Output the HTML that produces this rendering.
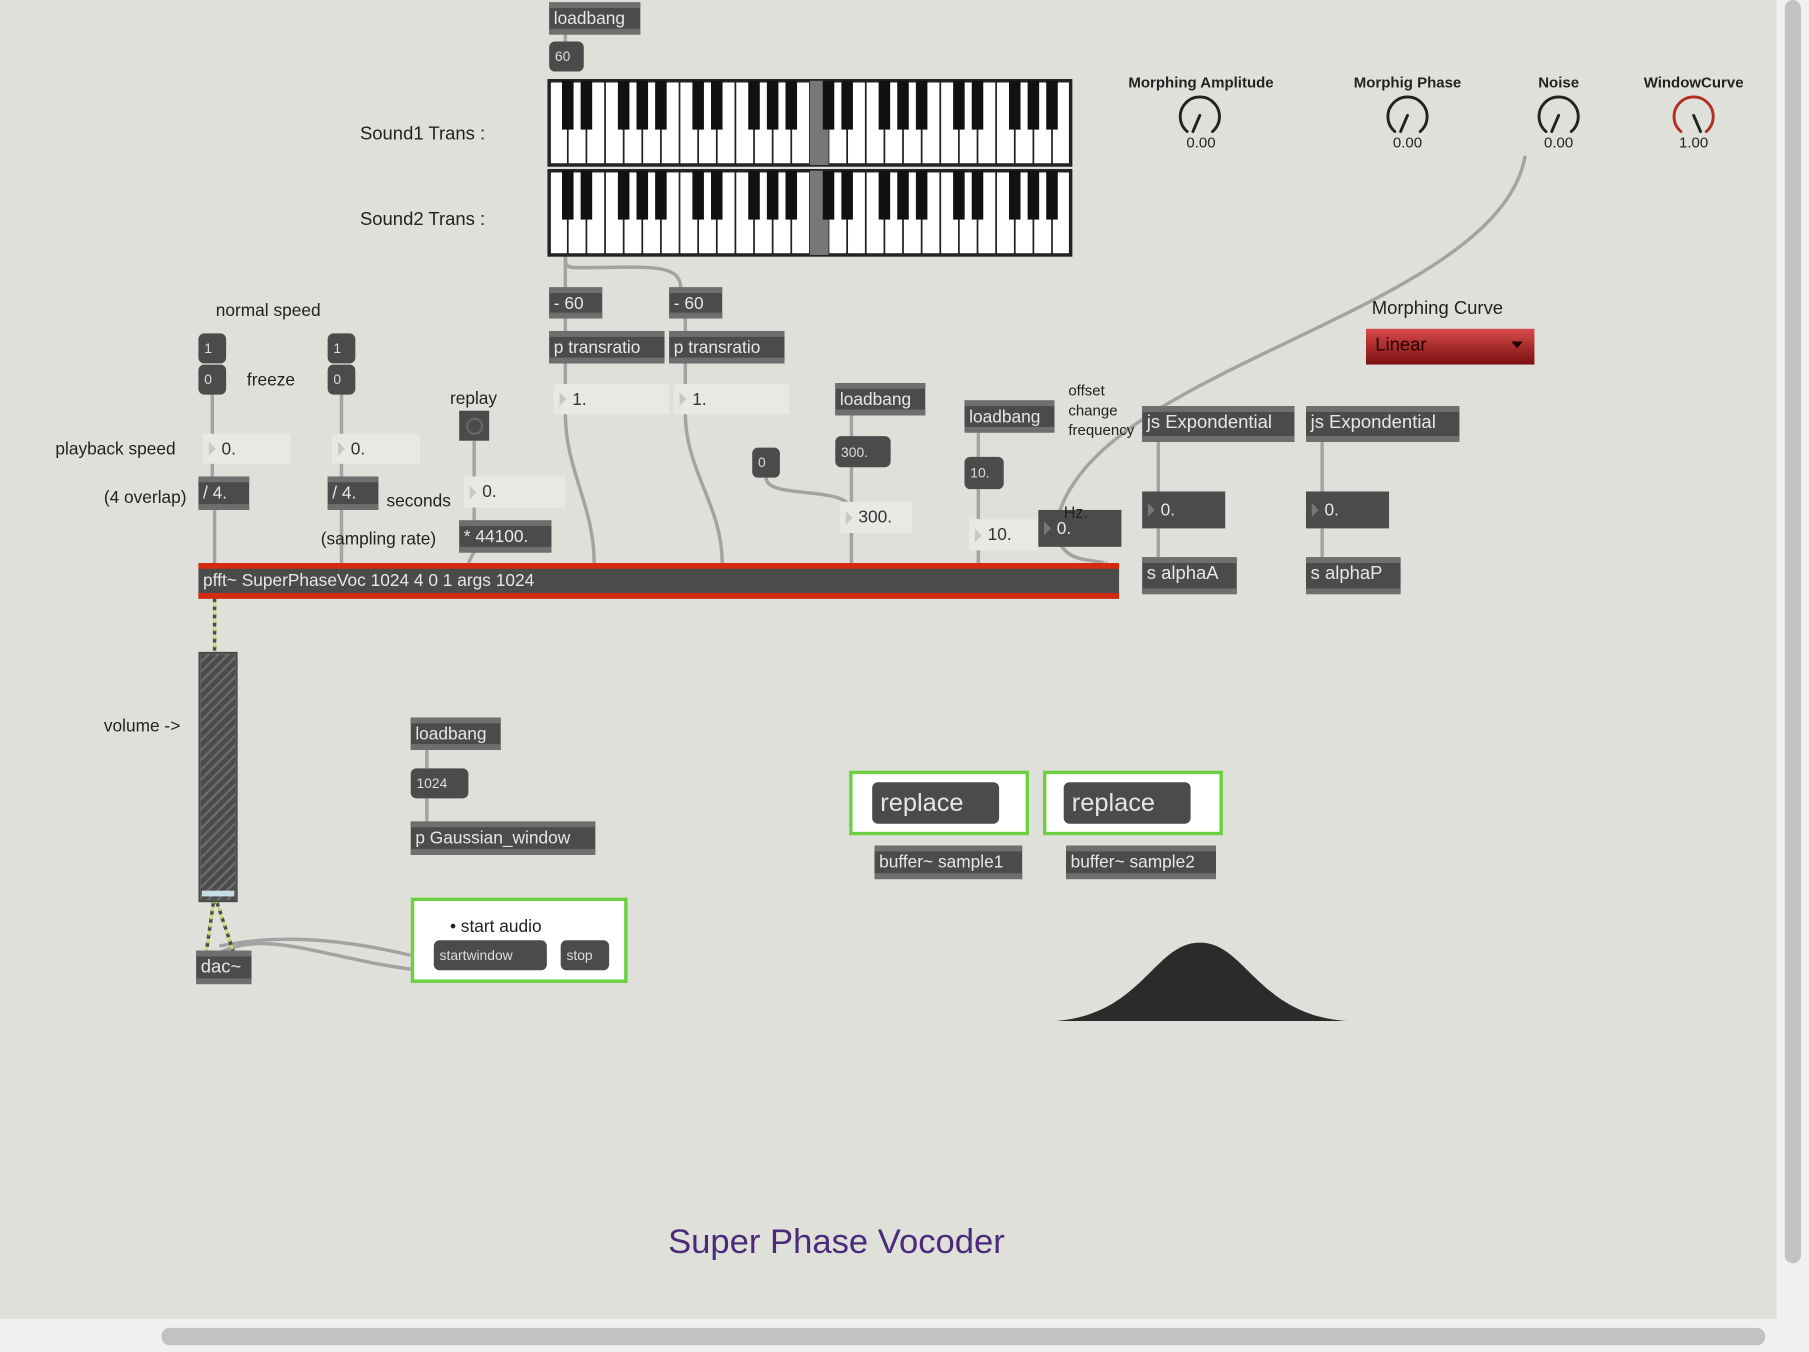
<!DOCTYPE html>
<html><head><meta charset="utf-8"><style>
html,body{margin:0;padding:0;width:1809px;height:1352px;overflow:hidden;background:#e0e0db}
#w{position:absolute;left:0;top:0;width:1568px;height:1172px;transform:scale(1.15370);transform-origin:0 0;font-family:"Liberation Sans",sans-serif}
.b{position:absolute;background:#4a4c4b;color:#e6e6e6;font-size:15px;line-height:1;box-sizing:border-box;border-top:5px solid #6e706f;border-bottom:5px solid #6e706f;padding:2px 4px;white-space:nowrap}
.m{position:absolute;background:#4a4c4b;color:#ddd;font-size:12px;border-radius:5px;box-sizing:border-box;padding:0 5px;display:flex;align-items:center;white-space:nowrap}
.f{position:absolute;background:#e8e8e5;color:#333;font-size:15px;box-sizing:border-box;padding:0 0 0 16px;display:flex;align-items:center}
.f:before{content:"";position:absolute;left:5px;top:50%;margin-top:-6px;border-left:6px solid #c8c8c8;border-top:6px solid transparent;border-bottom:6px solid transparent}
.d{position:absolute;background:#4a4c4b;color:#e6e6e6;font-size:15px;box-sizing:border-box;padding:0 0 0 16px;display:flex;align-items:center}
.d:before{content:"";position:absolute;left:5px;top:50%;margin-top:-6px;border-left:6px solid #777;border-top:6px solid transparent;border-bottom:6px solid transparent}
.t{position:absolute;color:#222;font-size:16px;white-space:nowrap}
.k{position:absolute;font-size:13px;font-weight:bold;color:#222;white-space:nowrap;transform:translateX(-50%)}
</style></head><body><div id="w">
<!-- scrollbars -->
<div style="position:absolute;left:1540px;top:0;width:28px;height:1172px;background:#f0f0ee"></div>
<div style="position:absolute;left:1547px;top:0;width:14px;height:1095px;background:#c2c2c2;border-radius:7px"></div>
<div style="position:absolute;left:0;top:1143px;width:1568px;height:29px;background:#f0f0ee"></div>
<div style="position:absolute;left:140px;top:1151px;width:1390px;height:15px;background:#c2c2c2;border-radius:7px"></div>

<svg style="position:absolute;left:0;top:0" width="1568" height="1172">
<g fill="none" stroke="#a3a3a3" stroke-width="3">
<path d="M490 30V36"/><path d="M490 220c0 10 0 12 10 12c60 0 90-5 90 18"/><path d="M490 220V250"/>
<path d="M490 275V288"/><path d="M594 275V288"/><path d="M490 315V333"/><path d="M594 315V333"/>
<path d="M490 358c0 50 25 80 25 130"/><path d="M594 358c0 50 32 80 32 130"/>
<path d="M184 342V413"/><path d="M296 342V413"/><path d="M186 442V488"/><path d="M296 442V488"/>
<path d="M411 382V451"/><path d="M411 478L406 488"/>
<path d="M738 360V378"/><path d="M738 405V488"/><path d="M664 414c0 20 74 5 74 30"/>
<path d="M848 375V396"/><path d="M848 424V488"/>
<path d="M1322 135C1300 260 1000 310 930 420C910 450 910 480 940 485C960 488 958 488 958 488"/>
<path d="M1004 383V426"/><path d="M1004 458V483"/><path d="M1146 383V426"/><path d="M1146 458V483"/>
<path d="M370 650V666"/><path d="M370 692V712"/>
<path d="M356 828C280 810 230 812 190 820" /><path d="M356 840C280 830 230 805 190 826"/>
</g>
<g fill="none" stroke="#4a4c4b" stroke-width="3" stroke-dasharray="4 3">
<path d="M186 518V565"/><path d="M185 782L179 824M188 782L202 824"/>
</g>
<g fill="none" stroke="#c8e060" stroke-width="2" stroke-dasharray="4 3" stroke-dashoffset="3">
<path d="M186 518V565"/><path d="M185 782L179 824M188 782L202 824"/>
</g>
<!-- keyboards -->
<g id="kb1"></g>
<!-- knobs -->
<g fill="none" stroke-width="2.5" stroke-linecap="round">
<path d="M1029 114A17 17 0 1 1 1051 114" stroke="#222"/><path d="M1040 100L1034 114" stroke="#222"/>
<path d="M1209 114A17 17 0 1 1 1231 114" stroke="#222"/><path d="M1220 100L1214 114" stroke="#222"/>
<path d="M1340 114A17 17 0 1 1 1362 114" stroke="#222"/><path d="M1351 100L1345 114" stroke="#222"/>
<path d="M1457 114A17 17 0 1 1 1479 114" stroke="#b03025"/><path d="M1468 100L1474 114" stroke="#222"/>
</g>
<path d="M914 885C990 880 1000 817 1040 817C1080 817 1090 880 1168 885Z" fill="#2b2b2b"/>
</svg>
<script>
(function(){var g=document.getElementById('kb1'),s='';
[[476,70],[476,148]].forEach(function(p){var x0=p[0],y0=p[1],w=452,h=73,n=28,kw=w/n;
s+='<rect x="'+x0+'" y="'+y0+'" width="'+w+'" height="'+h+'" fill="#fff" stroke="#222" stroke-width="3"/>';
for(var i=1;i<n;i++)s+='<line x1="'+(x0+i*kw)+'" y1="'+y0+'" x2="'+(x0+i*kw)+'" y2="'+(y0+h)+'" stroke="#222" stroke-width="1.5"/>';
s+='<rect x="'+(x0+14*kw)+'" y="'+y0+'" width="'+kw+'" height="'+h+'" fill="#777"/>';
for(var i=0;i<n;i++){var r=i%7;if(r==2||r==6)continue;s+='<rect x="'+(x0+(i+1)*kw-5)+'" y="'+y0+'" width="10" height="'+(h*0.58)+'" fill="#111"/>';}
});g.innerHTML=s;})();
</script>

<div class="b" style="left:476px;top:2px;width:79px;height:28px">loadbang</div>
<div class="m" style="left:476px;top:36px;width:30px;height:26px">60</div>
<div class="t" style="left:312px;top:108px">Sound1 Trans :</div>
<div class="t" style="left:312px;top:182px">Sound2 Trans :</div>

<div class="k" style="left:1041px;top:64px">Morphing Amplitude</div><div class="k" style="left:1041px;top:116px;font-weight:normal;font-size:13px">0.00</div>
<div class="k" style="left:1220px;top:64px">Morphig Phase</div><div class="k" style="left:1220px;top:116px;font-weight:normal">0.00</div>
<div class="k" style="left:1351px;top:64px">Noise</div><div class="k" style="left:1351px;top:116px;font-weight:normal">0.00</div>
<div class="k" style="left:1468px;top:64px">WindowCurve</div><div class="k" style="left:1468px;top:116px;font-weight:normal">1.00</div>

<div class="b" style="left:476px;top:249px;width:46px;height:27px">- 60</div>
<div class="b" style="left:580px;top:249px;width:46px;height:27px">- 60</div>
<div class="b" style="left:476px;top:287px;width:100px;height:28px">p transratio</div>
<div class="b" style="left:580px;top:287px;width:100px;height:28px">p transratio</div>
<div class="f" style="left:480px;top:333px;width:100px;height:26px">1.</div>
<div class="f" style="left:584px;top:333px;width:100px;height:26px">1.</div>

<div class="t" style="left:187px;top:261px;font-size:15px">normal speed</div>
<div class="m" style="left:172px;top:289px;width:24px;height:26px">1</div>
<div class="m" style="left:172px;top:316px;width:24px;height:26px">0</div>
<div class="m" style="left:284px;top:289px;width:24px;height:26px">1</div>
<div class="m" style="left:284px;top:316px;width:24px;height:26px">0</div>
<div class="t" style="left:214px;top:321px;font-size:15px">freeze</div>
<div class="t" style="left:390px;top:337px;font-size:15px">replay</div>
<div style="position:absolute;left:398px;top:356px;width:26px;height:26px;background:#4a4c4b"><div style="position:absolute;left:6px;top:6px;width:11px;height:11px;border:2px solid #666;border-radius:50%"></div></div>
<div class="t" style="left:48px;top:381px;font-size:15px">playback speed</div>
<div class="f" style="left:176px;top:376px;width:76px;height:26px">0.</div>
<div class="f" style="left:288px;top:376px;width:76px;height:26px">0.</div>
<div class="t" style="left:90px;top:423px;font-size:15px">(4 overlap)</div>
<div class="b" style="left:172px;top:413px;width:44px;height:29px">/ 4.</div>
<div class="b" style="left:284px;top:413px;width:44px;height:29px">/ 4.</div>
<div class="t" style="left:335px;top:426px;font-size:15px">seconds</div>
<div class="f" style="left:402px;top:413px;width:88px;height:27px">0.</div>
<div class="b" style="left:398px;top:451px;width:80px;height:28px">* 44100.</div>
<div class="t" style="left:278px;top:459px;font-size:15px">(sampling rate)</div>

<div class="b" style="left:172px;top:488px;width:798px;height:31px;border-color:#d42a10;padding-top:3px;font-size:15px">pfft~ SuperPhaseVoc 1024 4 0 1 args 1024</div>

<div class="b" style="left:724px;top:332px;width:78px;height:28px">loadbang</div>
<div class="m" style="left:724px;top:378px;width:48px;height:27px">300.</div>
<div class="m" style="left:652px;top:388px;width:24px;height:26px">0</div>
<div class="f" style="left:728px;top:435px;width:62px;height:27px">300.</div>
<div class="b" style="left:836px;top:347px;width:78px;height:28px">loadbang</div>
<div class="m" style="left:836px;top:396px;width:34px;height:28px">10.</div>
<div class="f" style="left:840px;top:450px;width:60px;height:27px">10.</div>
<div class="d" style="left:900px;top:442px;width:72px;height:32px">0.</div>
<div class="t" style="left:922px;top:436px;font-size:14px">Hz.</div>
<div class="t" style="left:926px;top:330px;font-size:13px;line-height:17px">offset<br>change<br>frequency</div>

<div class="b" style="left:990px;top:352px;width:132px;height:31px;font-size:16px">js Expondential</div>
<div class="b" style="left:1132px;top:352px;width:133px;height:31px;font-size:16px">js Expondential</div>
<div class="d" style="left:990px;top:426px;width:72px;height:32px">0.</div>
<div class="d" style="left:1132px;top:426px;width:72px;height:32px">0.</div>
<div class="b" style="left:990px;top:483px;width:82px;height:32px;font-size:16px">s alphaA</div>
<div class="b" style="left:1132px;top:483px;width:82px;height:32px;font-size:16px">s alphaP</div>
<div class="t" style="left:1189px;top:259px;font-size:16px">Morphing Curve</div>
<div style="position:absolute;left:1184px;top:285px;width:146px;height:31px;background:linear-gradient(#d84a4a,#7a1010);color:#200;font-size:16px;box-sizing:border-box;padding:6px 8px">Linear<span style="position:absolute;right:10px;top:11px;border-top:6px solid #200;border-left:5px solid transparent;border-right:5px solid transparent"></span></div>

<div style="position:absolute;left:172px;top:565px;width:34px;height:217px;background:repeating-linear-gradient(135deg,#4a4c4b 0 4px,#6a6c6b 4px 6px);border:2px solid #4a4c4b;box-sizing:border-box"></div>
<div style="position:absolute;left:175px;top:772px;width:28px;height:5px;background:#c6dfe6"></div>
<div class="t" style="left:90px;top:621px;font-size:15px">volume -&gt;</div>
<div class="b" style="left:170px;top:824px;width:48px;height:29px;font-size:16px">dac~</div>

<div class="b" style="left:356px;top:622px;width:78px;height:28px">loadbang</div>
<div class="m" style="left:356px;top:666px;width:50px;height:26px">1024</div>
<div class="b" style="left:356px;top:712px;width:160px;height:29px">p Gaussian_window</div>

<div style="position:absolute;left:356px;top:778px;width:188px;height:74px;border:3px solid #6cd040;background:#fff;box-sizing:border-box"></div>
<div class="t" style="left:390px;top:795px;font-size:15px">• start audio</div>
<div class="m" style="left:376px;top:815px;width:98px;height:26px">startwindow</div>
<div class="m" style="left:486px;top:815px;width:42px;height:26px">stop</div>

<div style="position:absolute;left:736px;top:668px;width:156px;height:56px;border:3px solid #6cd040;background:#fff;box-sizing:border-box"></div>
<div class="m" style="left:756px;top:678px;width:110px;height:36px;font-size:22px;padding-left:7px;color:#e6e6e6">replace</div>
<div style="position:absolute;left:904px;top:668px;width:156px;height:56px;border:3px solid #6cd040;background:#fff;box-sizing:border-box"></div>
<div class="m" style="left:922px;top:678px;width:110px;height:36px;font-size:22px;padding-left:7px;color:#e6e6e6">replace</div>
<div class="b" style="left:758px;top:733px;width:128px;height:29px">buffer~ sample1</div>
<div class="b" style="left:924px;top:733px;width:130px;height:29px">buffer~ sample2</div>

<div style="position:absolute;left:0;width:1450px;top:1060px;text-align:center;font-size:30px;color:#4b2a7a">Super Phase Vocoder</div>
</div></body></html>
